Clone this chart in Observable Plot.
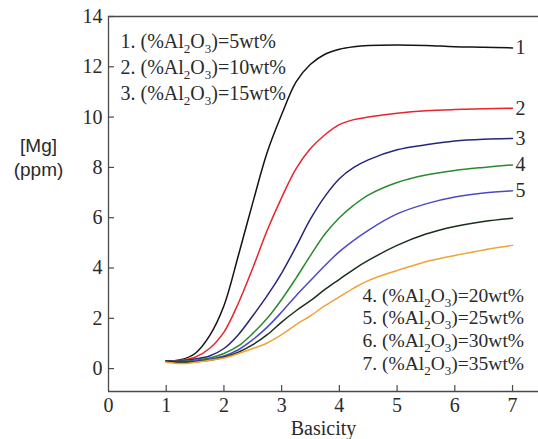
<!DOCTYPE html>
<html><head><meta charset="utf-8">
<script src="https://cdn.jsdelivr.net/npm/d3@7"></script>
<script src="https://cdn.jsdelivr.net/npm/@observablehq/plot@0.6"></script>
<style>body{margin:0;background:#fff}</style>
</head><body><div id="chart"></div>
<script>
const basicity = [1, 1.25, 1.5, 1.75, 2, 2.25, 2.5, 2.75, 3, 3.25, 3.5, 3.75, 4, 4.25, 4.5, 5, 5.5, 6, 6.5, 7];
const mg5  = [0.3, 0.35, 0.6, 1.3, 2.5, 4.5, 6.6, 8.6, 10.1, 11.4, 12.1, 12.5, 12.7, 12.8, 12.85, 12.87, 12.85, 12.8, 12.78, 12.75];
const mg10 = [0.3, 0.33, 0.45, 0.8, 1.45, 2.6, 4.0, 5.5, 6.8, 7.95, 8.75, 9.3, 9.7, 9.9, 10.0, 10.15, 10.25, 10.3, 10.33, 10.35];
const mg15 = [0.3, 0.3, 0.38, 0.5, 0.8, 1.35, 2.1, 2.9, 3.8, 4.85, 5.95, 6.85, 7.55, 8.0, 8.3, 8.7, 8.9, 9.05, 9.12, 9.15];
const mg20 = [0.3, 0.28, 0.33, 0.42, 0.6, 0.9, 1.4, 2.0, 2.75, 3.6, 4.5, 5.35, 6.0, 6.5, 6.9, 7.4, 7.7, 7.88, 8.0, 8.1];
const mg25 = [0.3, 0.27, 0.3, 0.38, 0.5, 0.75, 1.15, 1.65, 2.25, 2.9, 3.5, 4.1, 4.65, 5.1, 5.5, 6.15, 6.55, 6.82, 6.98, 7.07];
const mg30 = [0.3, 0.25, 0.27, 0.33, 0.45, 0.65, 0.95, 1.35, 1.85, 2.3, 2.7, 3.15, 3.55, 3.95, 4.3, 4.9, 5.35, 5.65, 5.85, 5.98];
const mg35 = [0.25, 0.2, 0.25, 0.33, 0.42, 0.6, 0.8, 1.02, 1.35, 1.75, 2.1, 2.5, 2.85, 3.2, 3.5, 3.9, 4.25, 4.5, 4.72, 4.9];
const seriesNames = ["1", "2", "3", "4", "5", "6", "7"];
const alumina = [5, 10, 15, 20, 25, 30, 35];
const seriesColors = ["#141414", "#e8242c", "#26267a", "#2b8a2e", "#4a4ac6", "#1b301c", "#f0a334"];
const labelledSeries = 5;
const xTicks = [0, 1, 2, 3, 4, 5, 6, 7];
const yTicks = [0, 2, 4, 6, 8, 10, 12, 14];
const xDomain = [0, 7.45];
const yDomain = [-0.91, 14];
const xLabel = "Basicity";
const yLabel = "[Mg]\n(ppm)";

const allSeries = [mg5, mg10, mg15, mg20, mg25, mg30, mg35];
const rows = allSeries.flatMap((vals, i) => vals.map((v, j) => ({x: basicity[j], y: v, k: seriesNames[i]})));
const ends = allSeries.slice(0, labelledSeries).map((vals, i) => ({x: basicity[basicity.length - 1], y: vals[vals.length - 1], k: seriesNames[i]}));
const legendTop = alumina.slice(0, 3).map((a, i) => `${i + 1}. (%Al2O3)=${a}wt%`).join("\n");
const legendBottom = alumina.slice(3).map((a, i) => `${i + 4}. (%Al2O3)=${a}wt%`).join("\n");

const W = 538, H = 439, mL = 108, mR = 0, mT = 16, mB = 48;
const innerW = W - mL - mR, innerH = H - mT - mB;
const axisColor = "#4a4a4a";
const textColor = "#2a2a2a";

const chart = Plot.plot({
  width: W, height: H,
  marginLeft: mL, marginRight: mR, marginTop: mT, marginBottom: mB,
  style: {fontFamily: "Liberation Serif", fontSize: "20px", color: textColor, background: "#fff"},
  x: {domain: xDomain},
  y: {domain: yDomain},
  color: {domain: seriesNames, range: seriesColors},
  marks: [
    Plot.ruleY([yDomain[1]], {stroke: axisColor, strokeWidth: 1.3}),
    Plot.ruleY([yDomain[0]], {stroke: axisColor, strokeWidth: 1.3}),
    Plot.ruleX([xDomain[0]], {stroke: axisColor, strokeWidth: 1.3}),
    Plot.tickX(xTicks.slice(1), {x: d => d, insetTop: innerH - 6, stroke: axisColor, strokeWidth: 1.2}),
    Plot.tickY(yTicks, {y: d => d, insetRight: innerW - 6, stroke: axisColor, strokeWidth: 1.2}),
    Plot.axisX({ticks: xTicks, tickSize: 0, tickPadding: 6, fill: textColor, fontSize: 20, label: xLabel, labelAnchor: "center", labelOffset: 43, labelArrow: "none"}),
    Plot.axisY({ticks: yTicks, tickSize: 0, tickPadding: 6, fill: textColor, fontSize: 20, label: null}),
    Plot.line(rows, {x: "x", y: "y", z: "k", stroke: "k", strokeWidth: 1.5, curve: "catmull-rom"}),
    Plot.text(ends, {x: "x", y: "y", text: "k", dx: 3, textAnchor: "start", fill: textColor, fontSize: 20}),
    Plot.text([legendTop], {frameAnchor: "top-left", dx: 12, dy: 13, lineAnchor: "top", textAnchor: "start", lineHeight: 1.3, fill: textColor, fontSize: 20, className: "legend-al"}),
    Plot.text([legendBottom], {frameAnchor: "bottom-left", dx: 254, dy: -22, lineAnchor: "bottom", textAnchor: "start", lineHeight: 1.16, fill: textColor, fontSize: 19.5, className: "legend-al"}),
    Plot.text([yLabel], {frameAnchor: "left", dx: -70, dy: -48, textAnchor: "middle", lineHeight: 1.3, fontFamily: "Liberation Sans", fontSize: 19, fill: textColor})
  ]
});

// subscripts for Al2O3
const NS = "http://www.w3.org/2000/svg";
chart.querySelectorAll("text, tspan").forEach(el => {
  Array.from(el.childNodes).forEach(n => {
    if (n.nodeType !== 3 || !n.nodeValue.includes("Al2O3")) return;
    const [a, b] = n.nodeValue.split("Al2O3");
    const parts = [[a + "Al", 0, null], ["2", 5, 13], ["O", -5, null], ["3", 5, 13], [b, -5, null]];
    const frag = document.createDocumentFragment();
    parts.forEach(([t, dy, fs], i) => {
      if (i === 0) { frag.appendChild(document.createTextNode(t)); return; }
      const s = document.createElementNS(NS, "tspan");
      s.setAttribute("dy", dy);
      if (fs) s.setAttribute("font-size", fs);
      s.textContent = t;
      frag.appendChild(s);
    });
    el.replaceChild(frag, n);
  });
});

document.getElementById("chart").appendChild(chart);
</script>
</body></html>
